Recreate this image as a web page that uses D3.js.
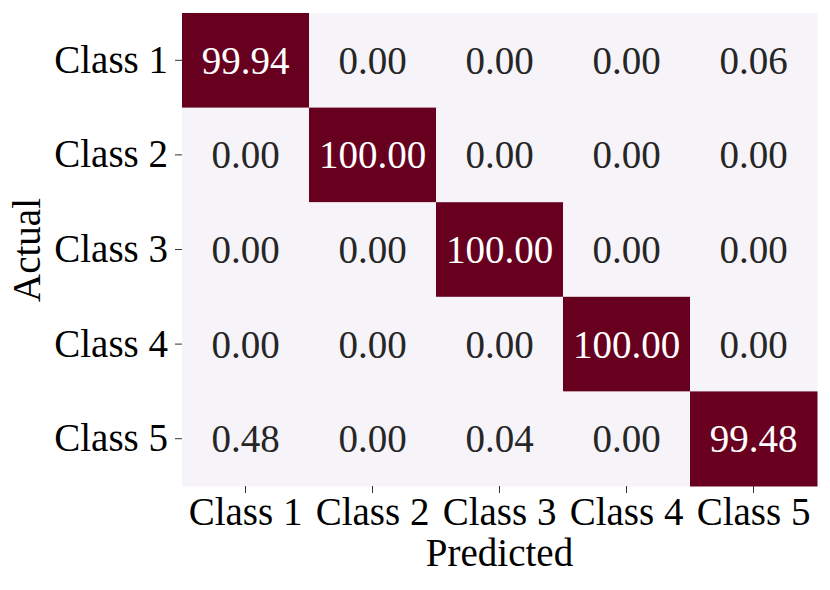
<!DOCTYPE html>
<html><head><meta charset="utf-8">
<script src="https://cdn.jsdelivr.net/npm/d3@7"></script>
<style>body{margin:0;background:#fff}</style>
</head><body>
<script>
const predicted = ["Class 1","Class 2","Class 3","Class 4","Class 5"];
const actual = ["Class 1","Class 2","Class 3","Class 4","Class 5"];
const row1 = [99.94, 0.00, 0.00, 0.00, 0.06];
const row2 = [0.00, 100.00, 0.00, 0.00, 0.00];
const row3 = [0.00, 0.00, 100.00, 0.00, 0.00];
const row4 = [0.00, 0.00, 0.00, 100.00, 0.00];
const row5 = [0.48, 0.00, 0.04, 0.00, 99.48];
const rows = [row1,row2,row3,row4,row5];

const W=830,H=590;
const font="'Liberation Serif','Times New Roman',serif";
const fs=39;
const svg=d3.select("body").append("svg").attr("width",W).attr("height",H);
const x=d3.scaleBand().domain(predicted).range([182,817]);
const y=d3.scaleBand().domain(actual).range([13,486]);
const color=d3.scaleSequential(d3.interpolatePuRd).domain([0,100]);

const cells=[];
rows.forEach((r,i)=>r.forEach((v,j)=>cells.push({a:actual[i],p:predicted[j],v})));
svg.selectAll("rect.c").data(cells).join("rect")
  .attr("x",d=>x(d.p)).attr("y",d=>y(d.a))
  .attr("width",x.bandwidth()+0.5).attr("height",y.bandwidth()+0.5)
  .attr("fill",d=>color(d.v));
svg.selectAll("text.v").data(cells).join("text")
  .attr("x",d=>x(d.p)+x.bandwidth()/2).attr("y",d=>y(d.a)+y.bandwidth()/2)
  .attr("text-anchor","middle").attr("dominant-baseline","central")
  .attr("font-family",font).attr("font-size",fs)
  .attr("fill",d=>d.v>50?"#ffffff":"#262626")
  .text(d=>d.v.toFixed(2));

const xa=svg.append("g").attr("transform",`translate(0,486)`)
  .call(d3.axisBottom(x).tickSize(7).tickPadding(4));
const ya=svg.append("g").attr("transform",`translate(182,0)`)
  .call(d3.axisLeft(y).tickSize(7).tickPadding(7));
[xa,ya].forEach(g=>{
  g.select(".domain").remove();
  g.selectAll("text").attr("font-family",font).attr("font-size",fs).attr("fill","#000");
  g.selectAll("line").attr("stroke","#333").attr("stroke-width",1);
});
svg.append("text").attr("x",499.5).attr("y",566).attr("text-anchor","middle")
  .attr("font-family",font).attr("font-size",fs).text("Predicted");
svg.append("text").attr("transform","translate(40,250) rotate(-90)").attr("text-anchor","middle")
  .attr("font-family",font).attr("font-size",fs).text("Actual");
</script>
</body></html>
